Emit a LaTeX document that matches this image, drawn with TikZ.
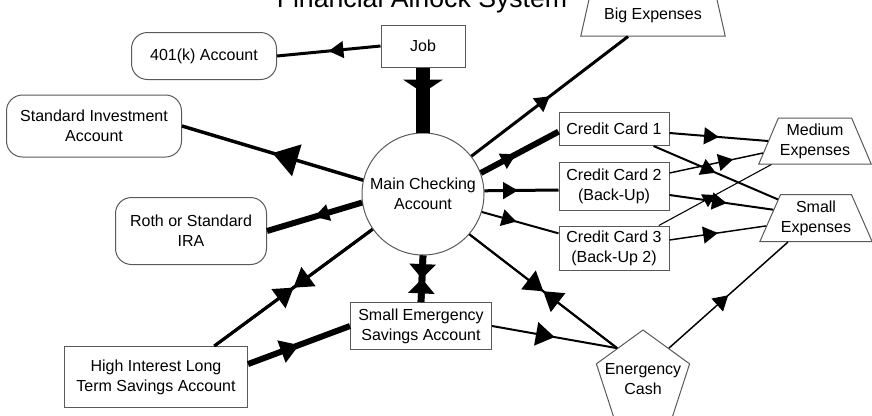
\documentclass[tikz,border=0pt]{standalone}
\usepackage{fontspec}
\setmainfont{Liberation Sans}
\usetikzlibrary{arrows.meta,shapes.geometric,decorations.markings}

\tikzset{
  tri/.tip={Triangle[length=11pt,width=13pt,line width=0pt]},
  smalltri/.tip={Triangle[length=9pt,width=11pt,line width=0pt]},
  medtri/.tip={Triangle[length=14pt,width=18pt,line width=0pt]},
  bigtri/.tip={Triangle[length=19pt,width=25pt,line width=0pt]},
  savetri/.tip={Triangle[length=11pt,width=20pt,line width=0pt]},
  jobtri/.tip={Triangle[length=10pt,width=30pt,line width=0pt]},
}

\begin{document}
\begin{tikzpicture}[x=0.75pt, y=-0.75pt, font=\fontsize{12}{15}\selectfont,
    box/.style={draw=black!65, line width=0.75pt, align=center, inner sep=2pt},
    acct/.style={box, rounded corners=12pt},
    cost/.style={box, trapezium, trapezium stretches=true, inner xsep=0pt},
    midtip/.style 2 args={postaction={decorate, decoration={markings, mark=at position #1 with {\arrow{#2}}}}}]
    \clip (0,0) rectangle (872,415);
    \node[font=\fontsize{20}{24}\selectfont, anchor=base] (title) at (422,7) {Financial Airlock System};
    % accounts
    \node[box, minimum width=63pt, minimum height=31.5pt] (job) at (423,46) {Job};
    \node[acct, minimum width=108.75pt, minimum height=35.25pt] (k401) at (204,56) {401(k) Account};
    \node[acct, minimum width=131.25pt, minimum height=46.5pt] (invest) at (94,126) {Standard Investment\\Account};
    \node[acct, minimum width=113.25pt, minimum height=50.25pt] (ira) at (191,231) {Roth or Standard\\IRA};
    \node[box, minimum width=137.25pt, minimum height=45.75pt] (longterm) at (156,377) {High Interest Long\\Term Savings Account};
    \node[box, circle, minimum size=91.5pt, inner sep=0pt] (main) at (423,194) {Main Checking\\Account};
    \node[box, minimum width=105.75pt, minimum height=35.25pt] (emsave) at (421,326) {Small Emergency\\Savings Account};
    \node[box, minimum width=82.5pt, minimum height=24.75pt] (card1) at (614,129) {Credit Card 1};
    \node[box, minimum width=82.5pt, minimum height=36pt] (card2) at (614,186) {Credit Card 2\\(Back-Up)};
    \node[box, minimum width=82.5pt, minimum height=33pt] (card3) at (614,248) {Credit Card 3\\(Back-Up 2)};
    % expenses
    \node[cost, trapezium left angle=70, trapezium right angle=70, minimum width=108.75pt, minimum height=31.5pt] (big) at (653,15) {Big Expenses};
    \node[cost, trapezium left angle=65, trapezium right angle=65, minimum width=84.75pt, minimum height=34.5pt] (medium) at (815,141) {Medium\\Expenses};
    \node[cost, trapezium left angle=63, trapezium right angle=63, minimum width=84.75pt, minimum height=35.25pt] (small) at (816,218) {Small\\Expenses};
    \node[box, regular polygon, regular polygon sides=5, minimum size=73.5pt, inner sep=0pt, label={[align=center]center:Energency\\Cash}] (cash) at (643,379) {};
    % flows
    \draw[line width=2.25pt, midtip={0.5}{tri}] (job.west) -- (k401.east);
    \draw[line width=11pt, midtip={0.39}{jobtri}] (job.south) -- (main.north);
    \draw[line width=2.6pt, midtip={0.5}{bigtri}] (main.167) -- (invest.east);
    \draw[line width=4.5pt, midtip={0.5}{tri}] (main.188) -- (ira.east);
    \draw[line width=2.25pt, midtip={0.5}{medtri}] (main.215) -- (longterm.28);
    \draw[line width=2.25pt, midtip={0.5}{medtri}] (longterm.28) -- (main.215);
    \draw[line width=4.5pt, midtip={0.5}{medtri}] (longterm.8) -- (emsave.west);
    \draw[line width=5pt, midtip={0.5}{savetri}] (main.south) -- (emsave.north);
    \draw[line width=5pt, midtip={0.5}{savetri}] (emsave.north) -- (main.south);
    \draw[line width=2.25pt, midtip={0.5}{tri}] (main.38) -- ([xshift=-18.75pt]big.south);
    \draw[line width=4.5pt, midtip={0.45}{tri}] (main.20) -- ([yshift=-2pt]card1.west);
    \draw[line width=2.25pt, midtip={0.45}{tri}] (main.3) -- ([yshift=-3pt]card2.west);
    \draw[line width=1.5pt, midtip={0.45}{tri}] (main.343) -- ([yshift=11pt]card3.west);
    \draw[line width=1.5pt, midtip={0.5}{medtri}] (main.319) -- (cash.130);
    \draw[line width=1.5pt, midtip={0.5}{medtri}] (cash.130) -- (main.319);
    \draw[line width=1.5pt, midtip={0.5}{medtri}] (emsave.east) -- (cash.130);
    \draw[line width=1.1pt, midtip={0.5}{tri}] (cash.50) -- ([xshift=-21pt]small.south);
    \draw[line width=1.5pt, midtip={0.5}{tri}] ([yshift=-3pt]card1.east) -- (medium.left side);
    \draw[line width=1.5pt, midtip={0.5}{tri}] ([xshift=-12pt]card1.south east) -- (small.154);
    \draw[line width=1.1pt, midtip={0.68}{tri}] ([yshift=9.75pt]card2.east) -- (medium.193);
    \draw[line width=1.5pt, midtip={0.55}{tri}] ([yshift=-6.75pt]card2.east) -- (small.169);
    \draw[line width=0.8pt, midtip={0.5}{smalltri}] ([xshift=-8pt]card3.north east) -- ([xshift=10pt]medium.bottom left corner);
    \draw[line width=1.1pt, midtip={0.5}{tri}] ([yshift=6pt]card3.east) -- (small.189);
\end{tikzpicture}
\end{document}
